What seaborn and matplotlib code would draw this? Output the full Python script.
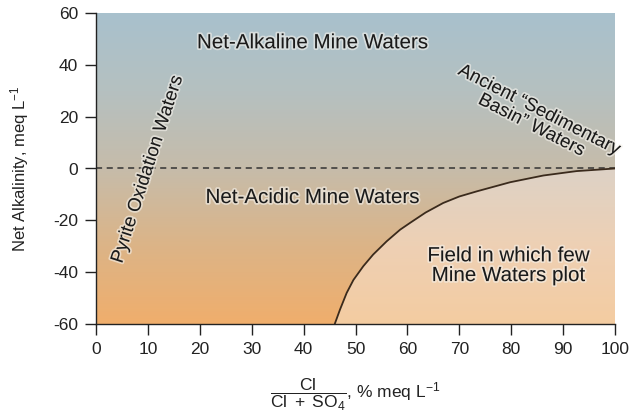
import matplotlib
matplotlib.use("Agg")
import matplotlib.pyplot as plt
import matplotlib.patheffects as pe
from matplotlib.colors import LinearSegmentedColormap
from matplotlib.patches import Polygon
import numpy as np
import seaborn as sns

# boundary of the "few mine waters" field
curve_x = [46, 47, 48.3, 49.6, 51.5, 53.4, 56, 58.6, 60.5, 63.5, 66.9, 70, 73.4, 79.8, 86.2, 92.6, 100]
curve_y = [-60, -54.5, -48, -43, -37.7, -33.2, -28.1, -23.6, -21, -17, -13.3, -10.8, -8.8, -5.3, -2.7, -1.0, 0]

x_ticks = [0, 10, 20, 30, 40, 50, 60, 70, 80, 90, 100]
y_ticks = [-60, -40, -20, 0, 20, 40, 60]

sns.set_theme(style="ticks")
plt.rcParams['font.family'] = ['Liberation Sans', 'DejaVu Sans']
plt.rcParams['axes.unicode_minus'] = False
plt.rcParams['mathtext.fontset'] = 'custom'
plt.rcParams['mathtext.rm'] = 'Liberation Sans'
plt.rcParams['mathtext.it'] = 'Liberation Sans:italic'
plt.rcParams['mathtext.bf'] = 'Liberation Sans:bold'

fig = plt.figure(figsize=(6.33, 4.19), dpi=100)
ax = fig.add_axes([96 / 633, 1 - 324 / 419, (615 - 96) / 633, (324 - 13) / 419])

# background gradient (bottom -> top)
bg = LinearSegmentedColormap.from_list(
    "bg", ["#f0ae6c", "#dcb487", "#c6bcaa", "#b5c0c0", "#a8c1cd"])
field = LinearSegmentedColormap.from_list(
    "field", ["#f4cca1", "#eed0b4", "#ddd2c6", "#c9c3b6", "#b8c2c4"])
grad = np.linspace(0, 1, 256).reshape(-1, 1)
ax.imshow(grad, extent=[0, 100, -60, 60], origin="lower", aspect="auto",
          cmap=bg, zorder=0)
im2 = ax.imshow(grad, extent=[0, 100, -60, 60], origin="lower", aspect="auto",
                cmap=field, zorder=0.5)
poly = Polygon(list(zip(curve_x, curve_y)) + [(100, -60)], closed=True,
               facecolor="none", edgecolor="none", transform=ax.transData)
ax.add_patch(poly)
im2.set_clip_path(poly)

ax.axhline(0, color="#333333", lw=1.1, ls=(0, (4, 3)), zorder=2)
sns.lineplot(x=curve_x, y=curve_y, sort=False, estimator=None,
             color="#3a2a1c", lw=1.3, ax=ax, zorder=3)

ax.set_xlim(0, 100)
ax.set_ylim(-60, 60)
ax.set_xticks(x_ticks)
ax.set_yticks(y_ticks)
ax.tick_params(direction="out", length=8, width=1, color="#222222",
               labelsize=12.5, labelcolor="#222222", pad=5)
for s in ["top", "right"]:
    ax.spines[s].set_visible(False)
for s in ["left", "bottom"]:
    ax.spines[s].set_color("#222222")
    ax.spines[s].set_linewidth(1)

ax.set_ylabel("Net Alkalinity, meq L$^{-1}$", fontsize=12, color="#222222",
              labelpad=16)
ax.set_xlabel(r"$\dfrac{\mathrm{Cl}}{\mathrm{Cl\ +\ SO_4}}$, % meq L$^{-1}$",
              fontsize=12.5, color="#222222", labelpad=14)

halo = [pe.withStroke(linewidth=2.5, foreground="#f5f2ec", alpha=0.6)]
kw = dict(color="#1a1a1a", ha="center", va="center", path_effects=halo, zorder=4)
ax.text(41.6, 48.5, "Net-Alkaline Mine Waters", fontsize=14.8, **kw)
ax.text(41.6, -11.2, "Net-Acidic Mine Waters", fontsize=14.8, **kw)
ax.text(79.4, -37.5, "Field in which few\nMine Waters plot", fontsize=14.8,
        linespacing=1.05, **kw)
ax.text(10.0, -0.4, "Pyrite Oxidation Waters", fontsize=13.5, rotation=72, **kw)
ax.text(84.6, 19.5, "Ancient \u201cSedimentary\nBasin\u201d Waters", fontsize=13.5,
        rotation=-27, linespacing=1.0, rotation_mode="anchor", **kw)

fig.savefig("out.png", dpi=100)
